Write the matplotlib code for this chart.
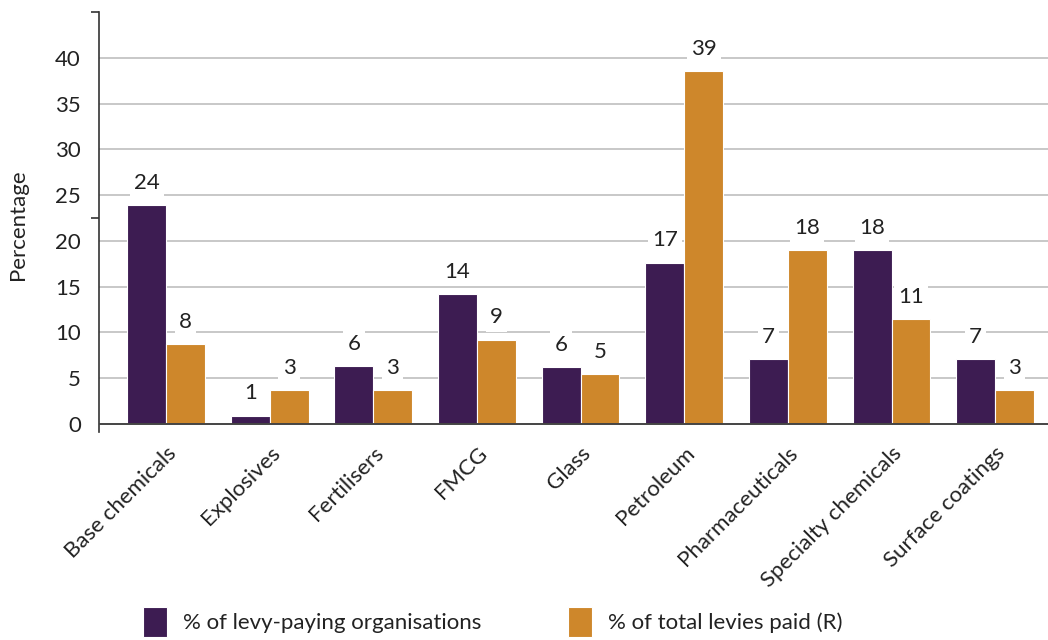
import numpy as np
import matplotlib.pyplot as plt
from matplotlib.ticker import FixedLocator

# data
categories = ["Base chemicals", "Explosives", "Fertilisers", "FMCG", "Glass",
              "Petroleum", "Pharmaceuticals", "Specialty chemicals", "Surface coatings"]
orgs_pct = [23.9, 0.9, 6.3, 14.2, 6.2, 17.6, 7.1, 19.0, 7.1]
levies_pct = [8.7, 3.7, 3.7, 9.2, 5.4, 38.5, 19.0, 11.4, 3.7]
orgs_labels = ["24", "1", "6", "14", "6", "17", "7", "18", "7"]
levies_labels = ["8", "3", "3", "9", "5", "39", "18", "11", "3"]

PURPLE = "#3d1c52"
ORANGE = "#ce872b"
FONT = ["Lato", "DejaVu Sans"]
FS = 16

plt.rcParams["font.family"] = FONT

fig = plt.figure(figsize=(10.48, 6.4), dpi=100)
ax = fig.add_axes([99 / 1048, 1 - 432 / 640, 1 - 99 / 1048, 420 / 640])

x = np.arange(len(categories))
w = 0.375
b1 = ax.bar(x - w / 2, orgs_pct, w, color=PURPLE, edgecolor="white", linewidth=0.8,
            label="% of levy-paying organisations", zorder=2)
b2 = ax.bar(x + w / 2, levies_pct, w, color=ORANGE, edgecolor="white", linewidth=0.8,
            label="% of total levies paid (R)", zorder=2)

# value labels with white background so they cut the gridlines
for bars, labels in ((b1, orgs_labels), (b2, levies_labels)):
    for bar, lab in zip(bars, labels):
        ax.annotate(lab, (bar.get_x() + bar.get_width() / 2, bar.get_height()),
                    xytext=(0, 16), textcoords="offset points", ha="center", va="center",
                    fontsize=FS, color="#222222", zorder=4,
                    bbox=dict(facecolor="white", edgecolor="none", pad=3))

ax.set_xlim(-0.647, 8.51)
ax.set_ylim(-0.9, 45)

# gridlines and zero line
for g in range(5, 45, 5):
    ax.axhline(g, color="#c8c8c8", linewidth=1.4, zorder=1)
ax.axhline(0, color="#444444", linewidth=1.4, zorder=3)

for s in ("top", "right", "bottom"):
    ax.spines[s].set_visible(False)
ax.spines["left"].set_color("#333333")
ax.spines["left"].set_linewidth(1.2)

ax.set_yticks(range(0, 45, 5))
ax.yaxis.set_minor_locator(FixedLocator([0, 22.5, 45]))
ax.tick_params(axis="y", which="major", length=0, pad=13, labelsize=FS, labelcolor="#222222")
ax.tick_params(axis="y", which="minor", length=6, width=1.2, color="#333333")

ax.set_xticks(x)
ax.set_xticklabels(categories, rotation=45, ha="right", rotation_mode="anchor",
                   fontsize=FS, color="#222222")
ax.tick_params(axis="x", length=0, pad=8)

fig.text(18 / 1048, 1 - 225 / 640, "Percentage", rotation=90, ha="center", va="center",
         fontsize=FS, color="#222222")

fig.legend(handles=[b1, b2], loc="upper left", bbox_to_anchor=(143 / 1048, 1 - 607 / 640),
           ncol=2, frameon=False, fontsize=FS, handlelength=1.08, handleheight=1.7,
           handletextpad=0.72, columnspacing=3.9, borderpad=0, borderaxespad=0,
           labelcolor="#222222")

fig.savefig("out.png", dpi=100)
